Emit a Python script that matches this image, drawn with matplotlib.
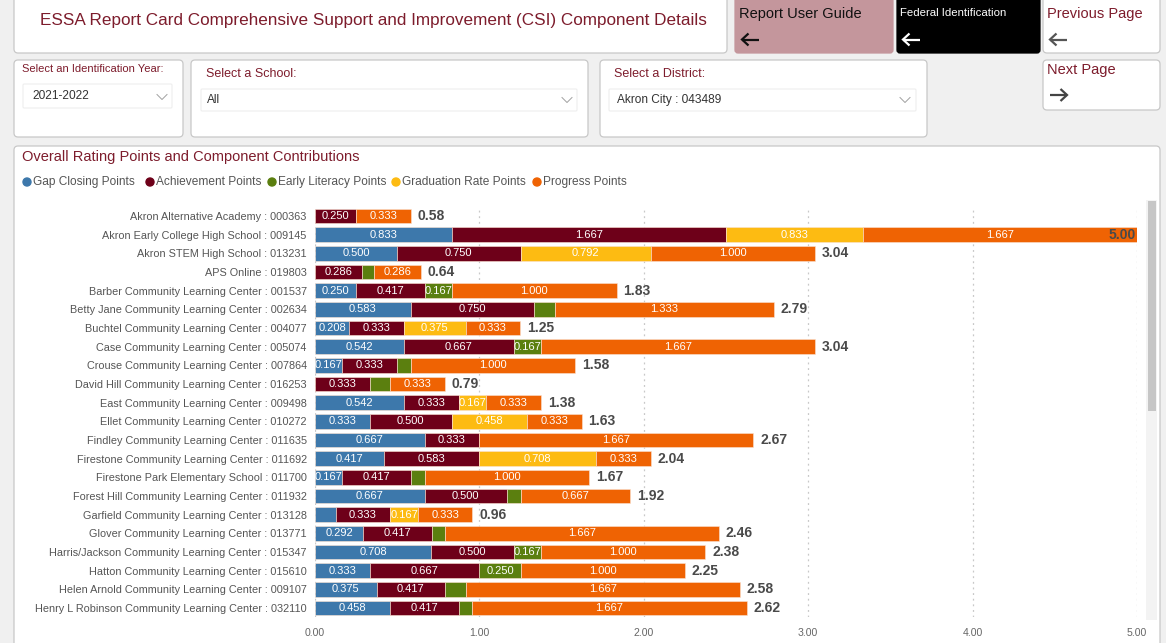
import matplotlib
matplotlib.use("Agg")
import matplotlib.pyplot as plt
from matplotlib.patches import FancyBboxPatch, Rectangle, Circle

plt.rcParams['font.family'] = ['Liberation Sans', 'DejaVu Sans']

# ---------------- data ----------------
schools = [
    "Akron Alternative Academy : 000363",
    "Akron Early College High School : 009145",
    "Akron STEM High School : 013231",
    "APS Online : 019803",
    "Barber Community Learning Center : 001537",
    "Betty Jane Community Learning Center : 002634",
    "Buchtel Community Learning Center : 004077",
    "Case Community Learning Center : 005074",
    "Crouse Community Learning Center : 007864",
    "David Hill Community Learning Center : 016253",
    "East Community Learning Center : 009498",
    "Ellet Community Learning Center : 010272",
    "Findley Community Learning Center : 011635",
    "Firestone Community Learning Center : 011692",
    "Firestone Park Elementary School : 011700",
    "Forest Hill Community Learning Center : 011932",
    "Garfield Community Learning Center : 013128",
    "Glover Community Learning Center : 013771",
    "Harris/Jackson Community Learning Center : 015347",
    "Hatton Community Learning Center : 015610",
    "Helen Arnold Community Learning Center : 009107",
    "Henry L Robinson Community Learning Center : 032110",
]
gap_closing = [0, 0.833, 0.500, 0, 0.250, 0.583, 0.208, 0.542, 0.167, 0, 0.542,
               0.333, 0.667, 0.417, 0.167, 0.667, 0.125, 0.292, 0.708, 0.333, 0.375, 0.458]
achievement = [0.250, 1.667, 0.750, 0.286, 0.417, 0.750, 0.333, 0.667, 0.333, 0.333, 0.333,
               0.500, 0.333, 0.583, 0.417, 0.500, 0.333, 0.417, 0.500, 0.667, 0.417, 0.417]
early_literacy = [0, 0, 0, 0.071, 0.167, 0.125, 0, 0.167, 0.083, 0.125, 0,
                  0, 0, 0, 0.083, 0.083, 0, 0.083, 0.167, 0.250, 0.125, 0.083]
graduation = [0, 0.833, 0.792, 0, 0, 0, 0.375, 0, 0, 0, 0.167,
              0.458, 0, 0.708, 0, 0, 0.167, 0, 0, 0, 0, 0]
progress = [0.333, 1.667, 1.000, 0.286, 1.000, 1.333, 0.333, 1.667, 1.000, 0.333, 0.333,
            0.333, 1.667, 0.333, 1.000, 0.667, 0.333, 1.667, 1.000, 1.000, 1.667, 1.667]
totals = [0.58, 5.00, 3.04, 0.64, 1.83, 2.79, 1.25, 3.04, 1.58, 0.79, 1.38,
          1.63, 2.67, 2.04, 1.67, 1.92, 0.96, 2.46, 2.38, 2.25, 2.58, 2.62]
series_names = ["Gap Closing Points", "Achievement Points", "Early Literacy Points",
                "Graduation Rate Points", "Progress Points"]
series_colors = ["#3d78ab", "#6e0019", "#5b7f0f", "#fdbb12", "#ef6303"]
x_ticks = [0, 1, 2, 3, 4, 5]

W, H = 1166, 643
fig = plt.figure(figsize=(W / 100, H / 100), dpi=100)
fig.patch.set_facecolor("#f0f0f0")

# ------------- background / dashboard layer (pixel coords) -------------
bg = fig.add_axes([0, 0, 1, 1], zorder=0)
bg.set_xlim(0, W)
bg.set_ylim(H, 0)
bg.axis("off")

DARKRED = "#7d1c2c"

def panel(x0, y0, x1, y1, fc="white", ec="#c8c8c8", r=4, lw=0.9):
    bg.add_patch(FancyBboxPatch((x0, y0), x1 - x0, y1 - y0,
                                boxstyle=f"round,pad=0,rounding_size={r}",
                                fc=fc, ec=ec, lw=lw))

def chevron(xc, yc):
    bg.plot([xc - 5, xc, xc + 5], [yc - 2.5, yc + 2.5, yc - 2.5], color="#a0a0a0", lw=0.7)

def arrow(x0, yc, col, direction=-1):
    # direction -1: pointing left, +1: pointing right
    x1 = x0 + 17
    bg.plot([x0, x1], [yc, yc], color=col, lw=1.6, solid_capstyle="butt")
    tip = x0 if direction < 0 else x1
    back = tip + 6.5 if direction < 0 else tip - 6.5
    bg.plot([back, tip, back], [yc - 6, yc, yc + 6], color=col, lw=1.6,
            solid_joinstyle="miter", solid_capstyle="butt")

# title panel
panel(14, -10, 727, 53)
bg.text(40, 20, "ESSA Report Card Comprehensive Support and Improvement (CSI) Component Details",
        fontsize=12.3, color=DARKRED, va="center", ha="left")

# buttons
panel(735, -10, 893, 53, fc="#c4969c", ec="#c4969c", r=3)
bg.text(739, 14, "Report User Guide", fontsize=10.5, color="#111111", va="center")
arrow(742, 39.5, "#111111")

panel(897, -10, 1040, 53, fc="#000000", ec="#000000", r=3)
bg.text(900, 13, "Federal Identification", fontsize=8.2, color="white", va="center")
arrow(903, 39.5, "white")

panel(1043, -10, 1160, 53)
bg.text(1047, 14, "Previous Page", fontsize=10.5, color=DARKRED, va="center")
arrow(1050, 39.5, "#555555")

panel(1043, 60, 1160, 110)
bg.text(1047, 70, "Next Page", fontsize=10.5, color=DARKRED, va="center")
arrow(1050, 95, "#444444", direction=1)

# filter panels
panel(14, 60, 183, 137)
bg.text(22, 69, "Select an Identification Year:", fontsize=8, color=DARKRED, va="center")
panel(23, 84, 172, 108, ec="#ececec", r=1, lw=0.7)
bg.text(32, 96, "2021-2022", fontsize=8.6, color="#333333", va="center")
chevron(162, 97)

panel(191, 60, 588, 137)
bg.text(206, 74, "Select a School:", fontsize=9, color=DARKRED, va="center")
panel(201, 89, 577, 111, ec="#ececec", r=1, lw=0.7)
bg.text(207, 100, "All", fontsize=8.6, color="#333333", va="center")
chevron(567, 100)

panel(600, 60, 927, 137)
bg.text(614, 74, "Select a District:", fontsize=9, color=DARKRED, va="center")
panel(609, 89, 916, 111, ec="#ececec", r=1, lw=0.7)
bg.text(617, 100, "Akron City : 043489", fontsize=8.6, color="#333333", va="center")
chevron(905, 100)

# chart panel
panel(14, 146, 1160, 660)
bg.text(22, 157, "Overall Rating Points and Component Contributions",
        fontsize=10.5, color=DARKRED, va="center")

legend_x = [27, 150, 272, 396, 537]
for lx, name, col in zip(legend_x, series_names, series_colors):
    bg.add_patch(Circle((lx, 182), 4, color=col))
    bg.text(lx + 6, 182, name, fontsize=8.6, color="#555555", va="center")

# scrollbar
bg.add_patch(Rectangle((1146, 200), 11, 420, fc="#f3f3f3", ec="none"))
bg.add_patch(Rectangle((1148, 201), 8, 210, fc="#c6c6c6", ec="none"))

# ---------------- chart ----------------
left = 315 / W
right = 1137 / W
top_px, bot_px = 206.7, 617.3
ax = fig.add_axes([left, 1 - bot_px / H, right - left, (bot_px - top_px) / H], zorder=2)
ax.set_facecolor("none")

n = len(schools)
ypos = list(range(n))
series = [gap_closing, achievement, early_literacy, graduation, progress]
lefts = [0.0] * n
bar_h = 0.78
for vals, col in zip(series, series_colors):
    ax.barh(ypos, vals, left=lefts, height=bar_h, color=col, edgecolor="#fbe3d3", linewidth=0.4)
    for i, v in enumerate(vals):
        if v >= 0.15:
            ax.text(lefts[i] + v / 2, i, f"{v:.3f}", ha="center", va="center",
                    fontsize=8, color="white")
    lefts = [a + b for a, b in zip(lefts, vals)]

for i, t in enumerate(totals):
    end = lefts[i]
    if t >= 4.8:
        ax.text(end - 0.005, i, f"{t:.2f}", ha="right", va="center", fontsize=10,
                fontweight="bold", color="#4a4a4a")
    else:
        ax.text(end + 0.04, i, f"{t:.2f}", ha="left", va="center", fontsize=10,
                fontweight="bold", color="#4a4a4a")

ax.set_xlim(0, 5)
ax.set_ylim(n - 0.5, -0.5)
ax.set_yticks(ypos)
ax.set_yticklabels(schools, fontsize=7.8, color="#555555")
ax.set_xticks(x_ticks)
ax.set_xticklabels([f"{v:.2f}" for v in x_ticks], fontsize=7.6, color="#666666")
ax.tick_params(axis="both", length=0)
ax.tick_params(axis="y", pad=6)
ax.tick_params(axis="x", pad=8)
for s in ax.spines.values():
    s.set_visible(False)
ax.grid(axis="x", linestyle=(0, (1.5, 3)), color="#c8c8c8", linewidth=0.9)
ax.set_axisbelow(True)

fig.savefig("out.png", dpi=100, facecolor=fig.get_facecolor())
